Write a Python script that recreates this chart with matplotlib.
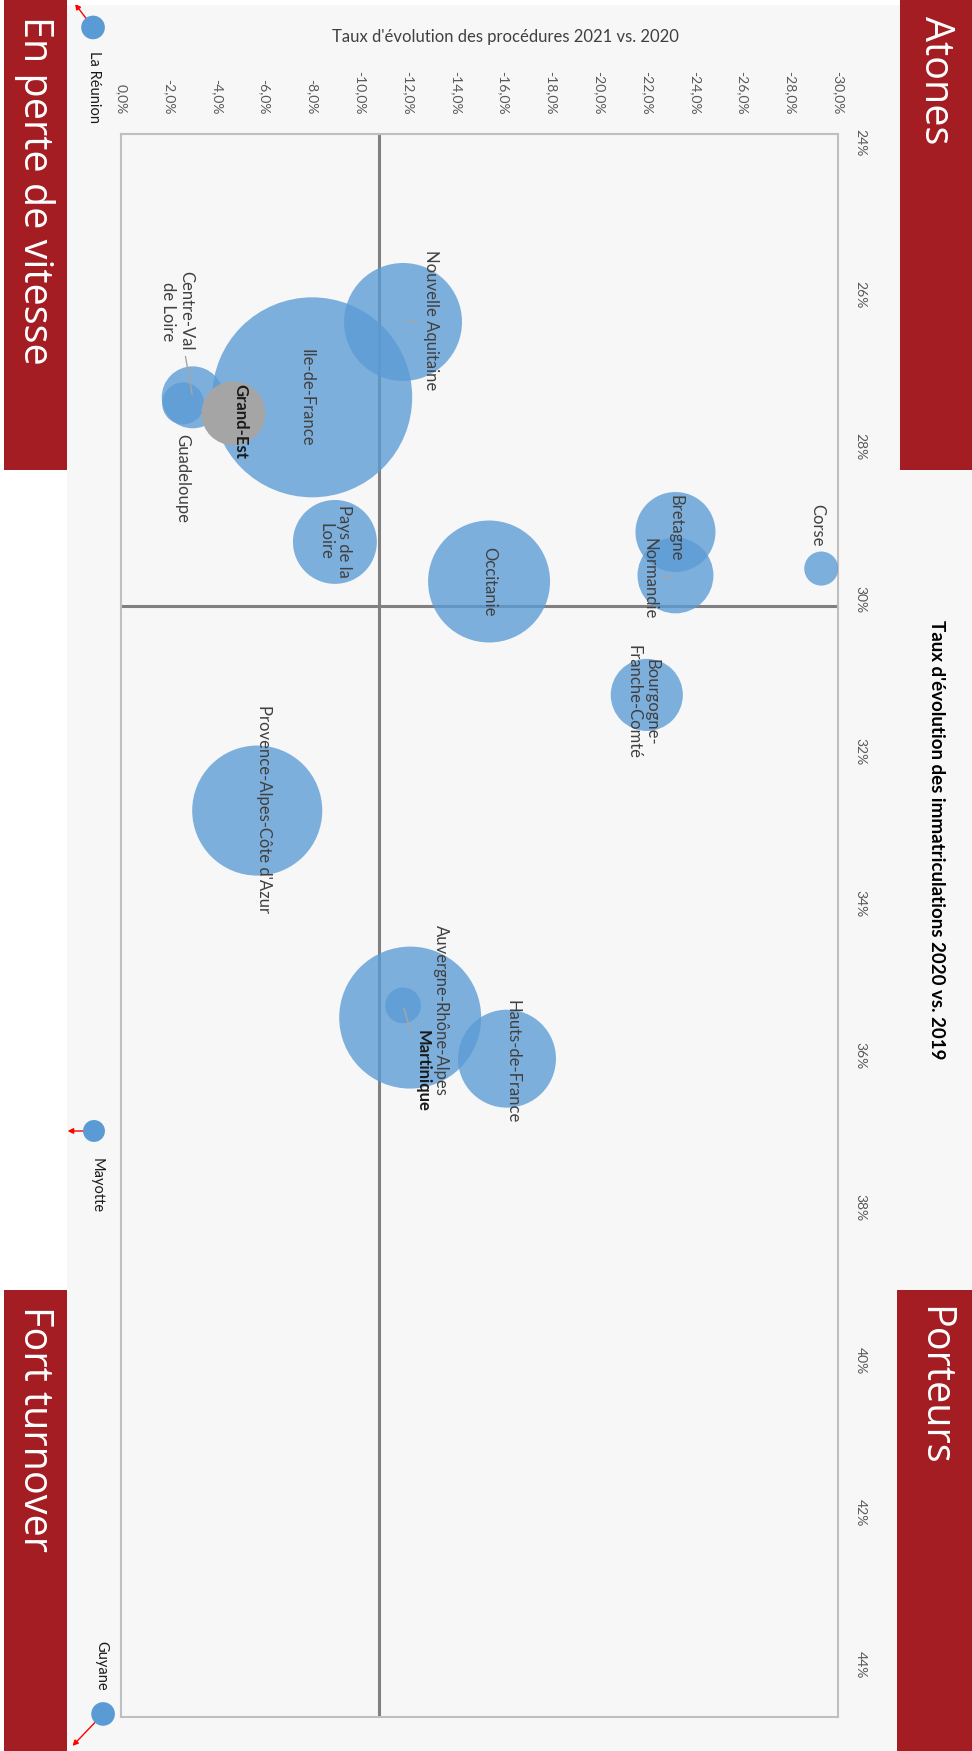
import numpy as np
import matplotlib.pyplot as plt
from matplotlib.patches import Rectangle
from matplotlib.transforms import offset_copy

# Données (taux en %)
regions = ["Nouvelle Aquitaine", "Ile-de-France", "Centre-Val\nde Loire", "Guadeloupe",
           "Grand-Est", "Pays de la\nLoire", "Occitanie", "Bretagne", "Normandie",
           "Corse", "Bourgogne-\nFranche-Comté", "Provence-Alpes-Côte d'Azur",
           "Auvergne-Rhône-Alpes", "Martinique", "Hauts-de-France"]
evol_procedures = [-11.8, -8.0, -3.0, -2.6, -4.7, -8.95, -15.4, -23.2, -23.2,
                   -29.3, -22.0, -5.7, -12.1, -11.8, -16.15]
evol_immat = [26.47, 27.46, 27.46, 27.54, 27.67, 29.36, 29.88, 29.23, 29.80,
              29.71, 31.37, 32.89, 35.61, 35.45, 36.15]
poids = [34.8, 100.0, 9.6, 4.4, 10.2, 17.6, 37.2, 16.0, 14.4,
         2.9, 13.0, 42.3, 50.4, 3.2, 24.0]

# Régions hors échelle (placées au bord du graphique)
hors_echelle = ["La Réunion", "Mayotte", "Guyane"]
hors_x = [1.17, 1.13, 0.75]
hors_y = [22.6, 37.1, 44.76]
hors_poids = [1.4, 1.2, 1.4]

ticks_x = np.arange(0, -31, -2)
ticks_y = np.arange(24, 45, 2)
moy_x, moy_y = -10.8, 30.2

# décalages des étiquettes (points)
decalages = {
    "Nouvelle Aquitaine": (20, 1), "Ile-de-France": (-4, 0), "Centre-Val\nde Loire": (-11, 62),
    "Guadeloupe": (-1, -54), "Grand-Est": (5, -6), "Pays de la\nLoire": (0, 0),
    "Occitanie": (0, 0), "Bretagne": (0, 3), "Normandie": (-19, -2), "Corse": (-3, 31),
    "Bourgogne-\nFranche-Comté": (-3, -5), "Provence-Alpes-Côte d'Azur": (5, 1),
    "Auvergne-Rhône-Alpes": (22, 5), "Martinique": (14, -47), "Hauts-de-France": (4, -2),
}
avec_trait = ["Nouvelle Aquitaine", "Centre-Val\nde Loire", "Martinique", "Normandie"]
en_gras = ["Grand-Est", "Martinique"]

plt.rcParams['font.family'] = ['Lato', 'DejaVu Sans']

fig = plt.figure(figsize=(9.72, 17.51), dpi=100, facecolor='#F7F7F7')
W, H = 972, 1751

def fx(px):
    return px / W

def fy(py):
    return 1 - py / H

# bande blanche à gauche et en haut
fig.patches.append(Rectangle((0, 0), fx(67), 1, transform=fig.transFigure,
                             facecolor='white', edgecolor='none', zorder=0))
fig.patches.append(Rectangle((0, fy(5)), 1, fy(0) - fy(5), transform=fig.transFigure,
                             facecolor='white', edgecolor='none', zorder=0))

ax = fig.add_axes([fx(121), fy(1717), fx(838) - fx(121), fy(134) - fy(1717)])
ax.set_facecolor('#F7F7F7')
ax.set_xlim(0, -30)
ax.set_ylim(44.8, 24)

s_max = (2 * 100 * 72 / 100) ** 2
couleurs = ['#A5A5A5' if r == "Grand-Est" else '#5B9BD5' for r in regions]
alphas = [1.0 if r == "Grand-Est" else 0.78 for r in regions]
for x, y, p, c, a in zip(evol_procedures, evol_immat, poids, couleurs, alphas):
    ax.scatter(x, y, s=p / 100 * s_max, color=c, alpha=a, edgecolors='none', zorder=3)

for r, x, y in zip(regions, evol_procedures, evol_immat):
    dx, dy = decalages[r]
    props = None
    if r in avec_trait:
        props = dict(arrowstyle='-', color='#A6A6A6', lw=1, shrinkA=2, shrinkB=2)
    ax.annotate(r, (x, y), xytext=(dx, dy), textcoords='offset points',
                rotation=270, ha='center', va='center', multialignment='center',
                fontsize=12, color='#1a1a1a' if r in en_gras else '#404040',
                fontweight='bold' if r in en_gras else 'normal',
                arrowprops=props, zorder=5, annotation_clip=False)

# points hors échelle avec flèches rouges
fleches = {"La Réunion": (-13, 17), "Mayotte": (-19, 0), "Guyane": (-22, -23)}
etiq_hors = {"La Réunion": (1, -43), "Mayotte": (2, -39), "Guyane": (-1, 35)}
for r, x, y, p in zip(hors_echelle, hors_x, hors_y, hors_poids):
    ax.scatter(x, y, s=p / 100 * s_max, color='#5B9BD5', edgecolors='none',
               clip_on=False, zorder=4)
    tx, ty = fleches[r]
    pointe = offset_copy(ax.transData, fig=fig, x=tx, y=ty, units='points')
    ax.annotate('', xy=(x, y), xycoords=pointe, xytext=(x, y), textcoords='data',
                arrowprops=dict(arrowstyle='-|>', color='#FF0000', lw=1,
                                mutation_scale=8, shrinkA=7, shrinkB=0),
                annotation_clip=False)
    ax.annotate(r, (x, y), xytext=etiq_hors[r], textcoords='offset points',
                rotation=270, ha='center', va='center', fontsize=10.5,
                color='#1a1a1a', annotation_clip=False)

ax.axvline(moy_x, color='#808080', lw=2.2, zorder=2)
ax.axhline(moy_y, color='#808080', lw=2.2, zorder=2)

ax.xaxis.tick_top()
ax.set_xticks(ticks_x)
ax.set_xticklabels([f"{t:.1f}%".replace('.', ',') for t in ticks_x], rotation=270)
ax.yaxis.tick_right()
ax.set_yticks(ticks_y)
ax.set_yticklabels([f"{t}%" for t in ticks_y], rotation=270)
ax.tick_params(axis='x', length=0, pad=14, labelsize=10, labelcolor='#595959')
ax.tick_params(axis='y', length=0, pad=12, labelsize=10, labelcolor='#595959')
for sp in ax.spines.values():
    sp.set_color('#BFBFBF')
    sp.set_linewidth(1.5)

fig.text(fx(505), fy(37), "Taux d'évolution des procédures 2021 vs. 2020",
         ha='center', va='center', fontsize=12, color='#404040')
fig.text(fx(936), fy(840), "Taux d'évolution des immatriculations 2020 vs. 2019",
         ha='center', va='center', rotation=270, fontsize=13.5, fontweight='bold',
         color='black')

# encadrés rouges des quadrants
rouge = '#A31D23'
encadres = [("En perte de vitesse", 4, 0, 67, 470), ("Atones", 900, 0, 972, 470),
            ("Fort turnover", 4, 1290, 67, 1751), ("Porteurs", 897, 1290, 972, 1751)]
for txt, x0, y0, x1, y1 in encadres:
    fig.patches.append(Rectangle((fx(x0), fy(y1)), fx(x1) - fx(x0), fy(y0) - fy(y1),
                                 transform=fig.transFigure, facecolor=rouge,
                                 edgecolor='none', zorder=1))
    fig.text(fx((x0 + x1) / 2 - 1), fy(y0 + 16), txt, rotation=270, ha='center', va='top',
             fontsize=28.5, color='white', family=['Open Sans', 'DejaVu Sans'])

fig.savefig('out.png', dpi=100, facecolor=fig.get_facecolor())
